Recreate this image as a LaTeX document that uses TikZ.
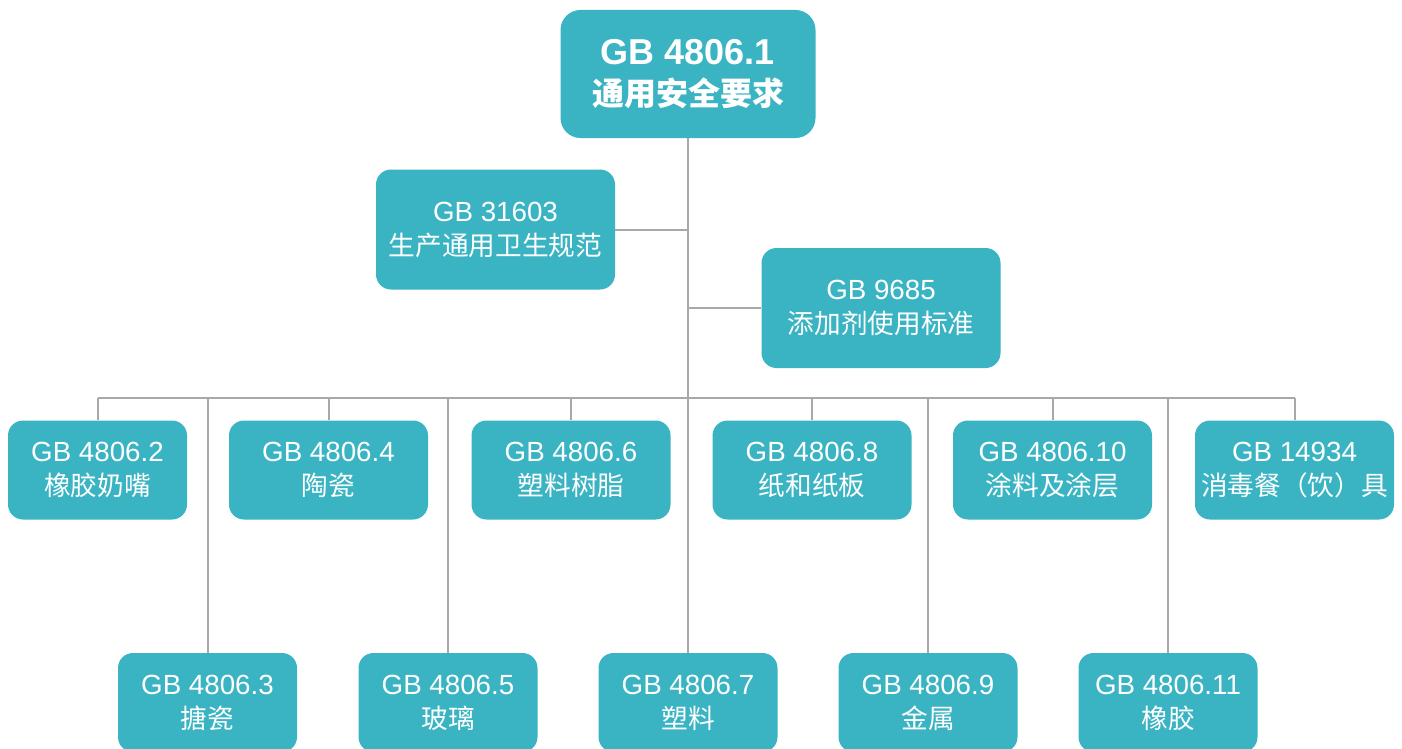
\documentclass[tikz,border=0pt]{standalone}
\usepackage{fontspec}
\setmainfont{Liberation Sans}
\newfontfamily\cjk{Noto Sans CJK SC}
\definecolor{boxteal}{RGB}{58,180,195}
\definecolor{linegray}{RGB}{168,168,168}
\newcommand{\lab}[2]{#1\\{\cjk\fontsize{20}{25.5}\selectfont #2}}
\tikzset{
  base/.style={fill=boxteal, text=white, align=center, inner sep=0pt,
    rounded corners=11.25pt, font=\fontsize{20.8}{25.5}\selectfont},
  wbox/.style={base, minimum width=149.25pt, minimum height=74.25pt},
  nbox/.style={base, minimum width=134.25pt, minimum height=74.25pt},
  mbox/.style={base, minimum width=179.25pt, minimum height=90pt},
  topbox/.style={base, rounded corners=15pt, minimum width=191.25pt, minimum height=96pt,
    font=\fontsize{27}{30.5}\selectfont\bfseries},
  conn/.style={draw=linegray, line width=1.5pt}
}
\begin{document}
\begin{tikzpicture}[x=0.75pt, y=-0.75pt]
\useasboundingbox[fill=white] (0,0) rectangle (1402,749);
% nodes
\node[topbox] (top) at (688,74) {\raisebox{0pt}[\height][0pt]{}GB 4806.1\\{\cjk\fontsize{24}{30.5}\selectfont\bfseries 通用安全要求}};
\node[mbox] (s31603) at (495.5,229.5) {\lab{GB 31603}{生产通用卫生规范}};
\node[mbox] (g9685) at (881,308) {\lab{GB 9685}{添加剂使用标准}};
\node[nbox] (t2) at (97.5,470) {\lab{GB 4806.2}{橡胶奶嘴}};
\node[wbox] (t4) at (328.5,470) {\lab{GB 4806.4}{陶瓷}};
\node[wbox] (t6) at (571,470) {\lab{GB 4806.6}{塑料树脂}};
\node[wbox] (t8) at (812,470) {\lab{GB 4806.8}{纸和纸板}};
\node[wbox] (t10) at (1052.5,470) {\lab{GB 4806.10}{涂料及涂层}};
\node[wbox] (t14934) at (1294.5,470) {\lab{GB 14934}{消毒餐（饮）具}};
\node[nbox] (b3) at (207.5,702.5) {\lab{GB 4806.3}{搪瓷}};
\node[nbox] (b5) at (448,702.5) {\lab{GB 4806.5}{玻璃}};
\node[nbox] (b7) at (688,702.5) {\lab{GB 4806.7}{塑料}};
\node[nbox] (b9) at (928,702.5) {\lab{GB 4806.9}{金属}};
\node[nbox] (b11) at (1168,702.5) {\lab{GB 4806.11}{橡胶}};
\coordinate (bus) at (0,398);
% connectors
\draw[conn] (top.south) -- (b7.north);
\draw[conn] (s31603.east) -- (s31603.east -| top.south);
\draw[conn] (g9685.west) -- (g9685.west -| top.south);
\draw[conn] (t2.north |- bus) -- (t14934.north |- bus);
\foreach \n in {t2,t4,t6,t8,t10,t14934,b3,b5,b9,b11}
  \draw[conn] (\n.north) -- (\n.north |- bus);
\end{tikzpicture}
\end{document}
